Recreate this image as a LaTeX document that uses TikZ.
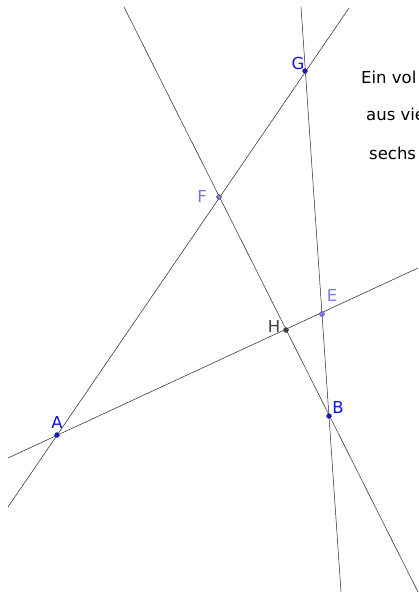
\documentclass[tikz,border=0pt]{standalone}
\usepackage{fontspec}
\setmainfont{DejaVu Sans}
\usepackage{tikz}
\usetikzlibrary{positioning, calc}
\definecolor{ptblue}{RGB}{20,20,225}
\definecolor{ptviolet}{RGB}{120,120,215}
\definecolor{ptlight}{RGB}{125,125,255}
\definecolor{ptgray}{RGB}{64,64,64}
\tikzstyle{pt} = [circle, inner sep=0pt, minimum size=5pt, draw=black!70, line width=0.4pt]
\tikzstyle{ptlabel} = [font=\fontsize{16.5}{19}\selectfont, inner sep=0pt]
\tikzstyle{gerade} = [line width=0.5pt, black!85]
\tikzstyle{infotext} = [font=\fontsize{16.5}{19}\selectfont, anchor=west, inner sep=0pt]

\begin{document}
\begin{tikzpicture}[x=1pt, y=-1pt]

  \useasboundingbox (0,0) rectangle (418,592);
  \clip (0,0) rectangle (418,592);
  \fill[white] (0,0) rectangle (418,592);

  % ends of the four lines
  \coordinate (agLow) at (8,507);
  \coordinate (agHigh) at (349,8);
  \coordinate (aeLeft) at (8,458);
  \coordinate (aeRight) at (418,268);
  \coordinate (gbTop) at (301,7);
  \coordinate (gbBot) at (341,592);
  \coordinate (fbTop) at (124,7);
  \coordinate (fbBot) at (418,592);

  \draw[gerade] (agLow) -- (agHigh);
  \draw[gerade] (aeLeft) -- (aeRight);
  \draw[gerade] (gbTop) -- (gbBot);
  \draw[gerade] (fbTop) -- (fbBot);

  % points
  \node[pt, fill=ptblue] (A) at (57,435) {};
  \node[pt, fill=ptblue] (B) at (329,416) {};
  \node[pt, fill=ptblue] (G) at (305,71) {};
  \node[pt, fill=ptviolet] (F) at (219,197) {};
  \node[pt, fill=ptlight] (E) at (322,314) {};
  \node[pt, fill=ptgray] (H) at (286,330) {};

  \node[ptlabel, text=ptblue] (labA) at (57,422) {A};
  \node[ptlabel, text=ptblue] (labB) at (338,407) {B};
  \node[ptlabel, text=ptblue] (labG) at (298,63) {G};
  \node[ptlabel, text=ptviolet] (labF) at (202,196) {F};
  \node[ptlabel, text=ptlight] (labE) at (332,295) {E};
  \node[ptlabel, text=ptgray] (labH) at (274,326) {H};

  \node[infotext] (txt1) at (361,77) {Ein vol};
  \node[infotext] (txt2) at (366,114) {aus vie};
  \node[infotext] (txt3) at (369,153) {sechs};

\end{tikzpicture}
\end{document}
